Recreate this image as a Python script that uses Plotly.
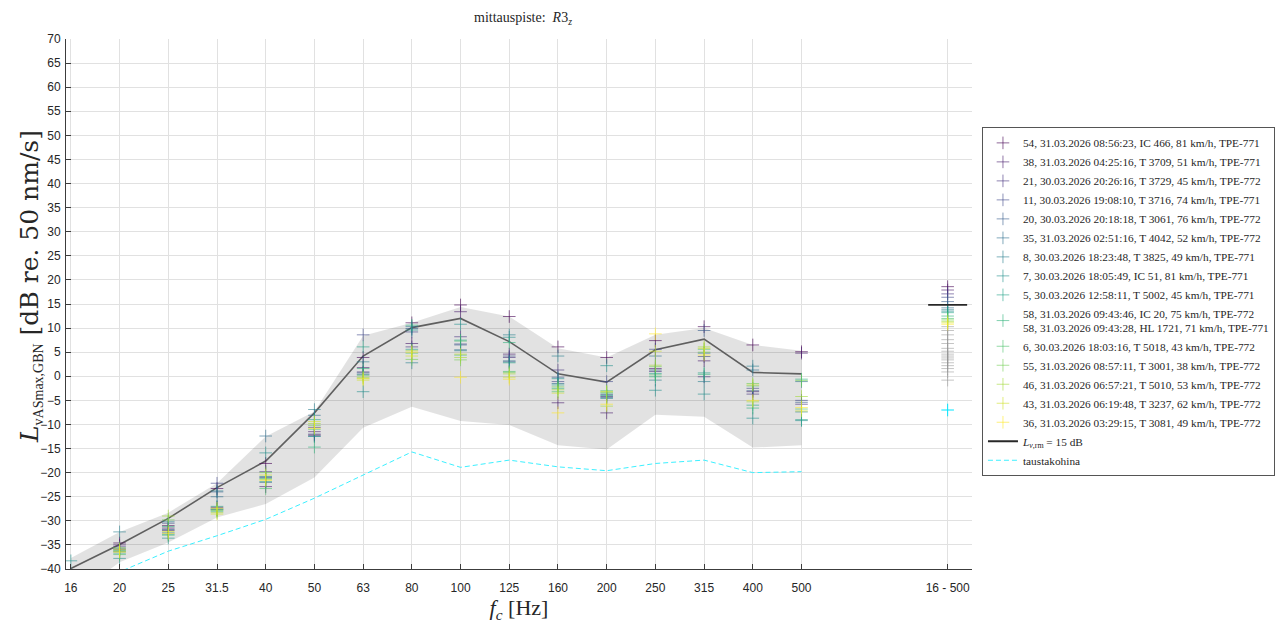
import plotly.graph_objects as go
from plotly.colors import sample_colorscale

bands = ["16", "20", "25", "31.5", "40", "50", "63", "80", "100", "125",
         "160", "200", "250", "315", "400", "500"]
overall_label = "16 - 500"

passes = [
    "54, 31.03.2026 08:56:23, IC 466, 81 km/h, TPE-771",
    "38, 31.03.2026 04:25:16, T 3709, 51 km/h, TPE-771",
    "21, 30.03.2026 20:26:16, T 3729, 45 km/h, TPE-772",
    "11, 30.03.2026 19:08:10, T 3716, 74 km/h, TPE-771",
    "20, 30.03.2026 20:18:18, T 3061, 76 km/h, TPE-772",
    "35, 31.03.2026 02:51:16, T 4042, 52 km/h, TPE-772",
    "8, 30.03.2026 18:23:48, T 3825, 49 km/h, TPE-771",
    "7, 30.03.2026 18:05:49, IC 51, 81 km/h, TPE-771",
    "5, 30.03.2026 12:58:11, T 5002, 45 km/h, TPE-771",
    "58, 31.03.2026 09:43:46, IC 20, 75 km/h, TPE-772<br>58, 31.03.2026 09:43:28, HL 1721, 71 km/h, TPE-771",
    "6, 30.03.2026 18:03:16, T 5018, 43 km/h, TPE-772",
    "55, 31.03.2026 08:57:11, T 3001, 38 km/h, TPE-772",
    "46, 31.03.2026 06:57:21, T 5010, 53 km/h, TPE-772",
    "43, 31.03.2026 06:19:48, T 3237, 62 km/h, TPE-772",
    "36, 31.03.2026 03:29:15, T 3081, 49 km/h, TPE-772",
]

# band levels per pass (16 ... 500 Hz)
p54 = [-44, -34.6, -31.0, -23.3, -18.1, -12.2, 3.9, 11.1, 14.8, 12.4, 6.1, 3.9, 7.4, 10.3, 6.5, 5.1]
p38 = [-45, -35.0, -31.5, -27.2, -22.9, -11.5, 1.8, 6.8, 13.4, 4.6, -5.5, -7.6, 1.6, 3.2, -3.2, 4.8]
p21 = [-43, -35.4, -32.0, -27.6, -19.8, -10.6, 0.9, 6.1, 8.2, 3.9, 1.3, -4.2, 1.0, -0.1, -3.7, -5.8]
p11 = [-46, -36.0, -30.5, -22.2, -21.0, -12.0, 8.6, 9.2, 6.7, 4.2, -1.1, -1.1, 5.6, 4.1, -2.5, -5.0]
p20 = [-42, -35.8, -31.8, -24.0, -22.0, -12.4, 0.7, 9.9, 6.5, 3.0, -0.2, -3.8, 1.3, 9.5, -3.0, -5.4]
p35 = [-44, -36.4, -32.5, -25.0, -12.4, -8.1, 0.4, 10.3, 5.5, 3.2, -1.5, -4.4, 4.2, 4.8, 1.3, -1.1]
p8 = [-41, -32.3, -30.2, -23.8, -20.8, -6.9, 3.0, 2.8, 5.3, 8.6, 4.2, -4.6, -0.8, -1.1, 2.1, -7.4]
p7 = [-38.3, -37.8, -33.6, -27.5, -15.9, -12.5, -3.2, 9.6, 10.8, 8.1, -0.5, 2.2, -2.9, -3.7, -8.7, -9.2]
p5 = [-43, -36.7, -32.8, -27.0, -21.9, -9.0, 6.1, 5.6, 7.5, 2.8, -1.8, -4.0, 0.6, 0.7, -6.0, -9.0]
p58 = [-45, -36.2, -31.2, -28.0, -21.2, -14.7, 1.6, 10.6, 4.4, 7.0, -2.5, -3.5, -0.1, 0.4, -6.6, -0.6]
p6 = [-47, -37.0, -33.0, -27.7, -23.3, -11.0, 0.2, 4.8, 7.3, 1.0, -3.2, -3.0, 0.3, 5.6, -2.0, -6.8]
p55 = [-44, -35.6, -29.8, -27.9, -20.0, -10.2, -0.4, 3.5, 3.4, 0.8, -2.2, -3.3, 2.0, 5.0, -1.5, -0.9]
p46 = [-46, -36.3, -29.0, -28.3, -21.4, -9.8, -0.2, 5.3, 3.9, 0.5, -2.8, -6.2, 2.3, 6.1, -5.3, -4.2]
p43 = [-45, -35.9, -32.2, -28.6, -20.5, -9.4, -0.8, 4.2, 4.6, -0.2, -3.5, -3.2, 5.2, 5.8, -1.8, -7.2]
p36 = [-48, -36.5, -32.6, -27.4, -21.6, -10.8, -0.5, 5.0, -0.2, -0.6, -7.6, -5.8, 8.8, 4.4, -5.0, -6.5]
pass_levels = [p54, p38, p21, p11, p20, p35, p8, p7, p5, p58, p6, p55, p46, p43, p36]
# overall (16 - 500 Hz) value per pass
pass_overall = [18.6, 17.9, 17.1, 16.4, 15.5, 14.2, 13.8, 13.5, 13.2, 12.5, 12.0, 11.7, 11.4, 11.1, 10.8]

other_overall = [10.3, 9.5, 8.6, 7.6, 6.8, 5.8, 5.2, 4.6, 4.2, 3.8, 3.4, 2.8, 2.2, 1.6, 0.9, -0.8]

mean_level = [-39.9, -34.9, -29.5, -23.1, -17.6, -7.6, 4.2, 10.1, 12.0, 7.2, 0.5, -1.2, 5.5, 7.7, 0.8, 0.5]
band_upper = [-37.7, -32.3, -28.3, -22.2, -12.5, -7.3, 8.4, 11.1, 14.4, 12.4, 5.8, 3.9, 8.6, 10.0, 6.5, 5.3]
band_lower = [-46.0, -38.6, -34.5, -29.3, -26.5, -21.0, -10.7, -6.3, -9.3, -10.1, -14.3, -15.2, -8.0, -8.4, -14.8, -14.3]

background = [-44.5, -40.6, -36.3, -33.1, -29.7, -25.3, -20.5, -15.7, -18.9, -17.4, -18.8, -19.6, -18.1, -17.4, -20.0, -19.8]
background_overall = -7.0
l_rm = 14.8

xb = list(range(len(bands)))
x_all = len(bands) + 2

colors = sample_colorscale("Viridis", len(passes))

def rgba(c, a):
    c = c.strip()
    if c.startswith("rgb"):
        vals = c[c.index("(") + 1:c.index(")")].split(",")
        r, g, b = [float(v) for v in vals[:3]]
    else:
        h = c.lstrip("#")
        r, g, b = int(h[0:2], 16), int(h[2:4], 16), int(h[4:6], 16)
    return f"rgba({int(r)},{int(g)},{int(b)},{a})"

fig = go.Figure()

# grey range band
fig.add_trace(go.Scatter(
    x=xb + xb[::-1], y=band_upper + band_lower[::-1],
    fill="toself", fillcolor="rgba(0,0,0,0.115)", line=dict(width=0),
    mode="lines", showlegend=False, hoverinfo="skip"))

# other passes (grey) at overall
fig.add_trace(go.Scatter(
    x=[x_all] * len(other_overall), y=other_overall, mode="markers",
    marker=dict(symbol="cross-thin", size=9, line=dict(width=1, color="rgba(150,150,150,0.55)")),
    showlegend=False, hoverinfo="skip"))

# mean line
fig.add_trace(go.Scatter(
    x=xb, y=mean_level, mode="lines",
    line=dict(color="rgb(95,95,95)", width=1.6), showlegend=False))

for name, lv, ov, col in zip(passes, pass_levels, pass_overall, colors):
    c = rgba(col, 0.6)
    fig.add_trace(go.Scatter(
        x=xb + [x_all], y=lv + [ov], mode="markers", name=name,
        marker=dict(symbol="cross-thin", size=9, color=c, line=dict(width=1, color=c))))

fig.add_trace(go.Scatter(
    x=[x_all - 0.4, x_all + 0.4], y=[l_rm, l_rm], mode="lines",
    line=dict(color="rgb(40,40,40)", width=1.8),
    name="<i>L</i><sub><i>v</i>,rm</sub> = 15 dB"))

fig.add_trace(go.Scatter(
    x=xb, y=background, mode="lines", name="taustakohina",
    line=dict(color="rgb(60,240,255)", width=1, dash="5px,3px")))
fig.add_trace(go.Scatter(
    x=[x_all], y=[background_overall], mode="markers", showlegend=False,
    marker=dict(symbol="cross-thin", size=9, color="rgb(0,230,255)",
                line=dict(width=1, color="rgb(0,230,255)"))))

serif = "Liberation Serif, DejaVu Serif, serif"
wide_serif = "DejaVu Serif, Liberation Serif, serif"
sans = "Liberation Sans, Arial, sans-serif"

fig.update_layout(
    width=1284, height=624,
    margin=dict(l=66, r=312, t=39, b=55, autoexpand=False),
    paper_bgcolor="white", plot_bgcolor="white",
    title=dict(text="mittauspiste:  <i>R</i>3<sub><i>z</i></sub>", x=((66 + 972) / 2 + 4) / 1284, xanchor="center",
               y=0.972, yanchor="middle", font=dict(family=serif, size=14, color="#262626")),
    showlegend=True,
    legend=dict(x=1.011, xanchor="left", y=0.504, yanchor="middle",
                font=dict(family=serif, size=11.3, color="#262626"),
                bordercolor="#555555", borderwidth=1, bgcolor="white",
                itemwidth=30, tracegroupgap=0),
    annotations=[dict(
        text="<i>L</i><sub><span style=\"font-family:Liberation Serif;font-size:14px\">vASmax,GBN</span></sub> [dB re. 50 nm/s]",
        textangle=-90, xref="paper", yref="paper", x=(30 - 66) / 906, y=(569 - 287) / 530,
        xanchor="center", yanchor="middle", showarrow=False,
        font=dict(family=wide_serif, size=25, color="#262626"))],
)

fig.update_xaxes(
    range=[-0.1, 18.5], tickmode="array", tickvals=xb + [x_all], ticktext=bands + [overall_label],
    showgrid=True, gridcolor="rgb(225,225,225)", gridwidth=1, zeroline=False,
    showline=True, linecolor="rgb(60,60,60)", linewidth=1,
    ticks="inside", ticklen=5, tickcolor="rgb(60,60,60)", ticklabelstandoff=8,
    tickfont=dict(family=sans, size=12, color="#262626"),
    title=dict(text="<i>f</i><sub><i>c</i></sub> [Hz]", font=dict(family=serif, size=22, color="#262626"), standoff=5),
)
fig.update_yaxes(
    range=[-40, 70], tickmode="linear", tick0=-40, dtick=5,
    showgrid=True, gridcolor="rgb(225,225,225)", gridwidth=1, zeroline=False,
    showline=True, linecolor="rgb(60,60,60)", linewidth=1,
    ticks="inside", ticklen=5, tickcolor="rgb(60,60,60)", ticklabelstandoff=2,
    tickfont=dict(family=sans, size=12, color="#262626"),
)

fig.write_html("out.html")
